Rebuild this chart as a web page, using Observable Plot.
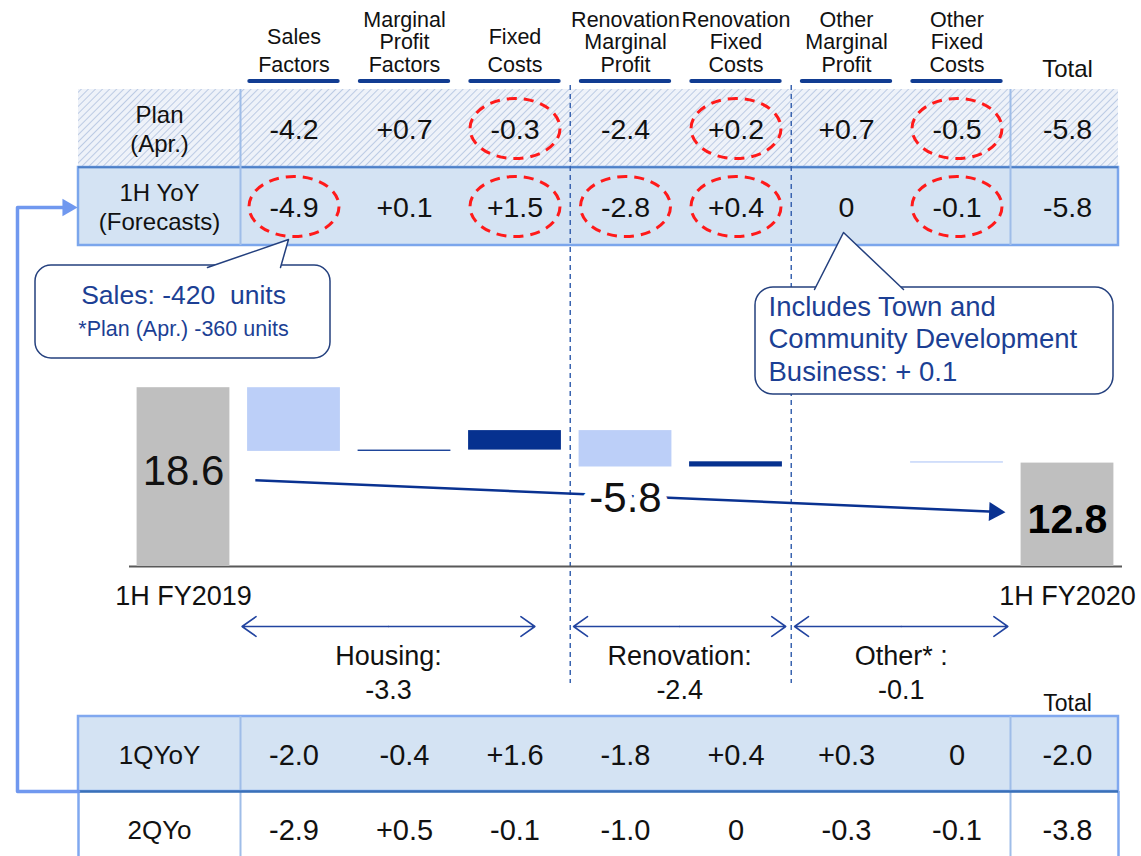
<!DOCTYPE html>
<html><head><meta charset="utf-8">
<script src="https://cdn.jsdelivr.net/npm/d3@7"></script>
<script src="https://cdn.jsdelivr.net/npm/@observablehq/plot@0.6"></script>
<style>
html,body{margin:0;padding:0;background:#fff;}
#wrap{position:relative;width:1141px;height:856px;overflow:hidden;background:#fff;}
#wrap svg{position:absolute;left:0;top:0;}
</style></head><body><div id="wrap"></div>
<script>
// ---------------- data ----------------
const factorNames = ["Sales\nFactors", "Marginal\nProfit\nFactors", "Fixed\nCosts",
  "Renovation\nMarginal\nProfit", "Renovation\nFixed\nCosts", "Other\nMarginal\nProfit", "Other\nFixed\nCosts"];
const totalName = "Total";
const planValues = [-4.2, 0.7, -0.3, -2.4, 0.2, 0.7, -0.5];
const planTotal = -5.8;
const yoyValues = [-4.9, 0.1, 1.5, -2.8, 0.4, 0, -0.1];
const yoyTotal = -5.8;
const q1Values = [-2.0, -0.4, 1.6, -1.8, 0.4, 0.3, 0];
const q1Total = -2.0;
const q2Values = [-2.9, 0.5, -0.1, -1.0, 0, -0.3, -0.1];
const q2Total = -3.8;
const topRowLabels = ["Plan\n(Apr.)", "1H YoY\n(Forecasts)"];
const bottomRowLabels = ["1QYoY", "2QYo"];
const circledPlan = [2, 4, 6];
const circledYoy = [0, 2, 3, 4, 6];
const startLabel = "1H FY2019", endLabel = "1H FY2020";
const startValue = 18.6, endValue = 12.8;
const groupNames = ["Housing:", "Renovation:", "Other* :"];
const groupMembers = [[0, 1, 2], [3, 4], [5, 6]];
const salesNote = ["Sales: -420  units", "*Plan (Apr.) -360 units"];
const otherNote = "Includes Town and\nCommunity Development\nBusiness: + 0.1";

// ---------------- layout ----------------
const W = 1141, H = 856;
const FONT = "Arial, 'Liberation Sans', sans-serif";
const colPx = 110.5, col0Px = 183;
const X0 = -col0Px / colPx, X1 = (W - col0Px) / colPx;
const col = px => (px - col0Px) / colPx;       // page pixel -> column units
const py = px => (629 - px) / 13;             // page pixel -> value units
const xOpt = {type: "linear", domain: [X0, X1], range: [0, W], axis: null};
const tableL = col(78), tableR = col(1118), labelDiv = col(240), totalDiv = col(1010), labelX = col(159);
const fmt = v => Math.abs(v) < 1e-9 ? "0" : (v > 0 ? "+" : "") + v.toFixed(1);

const NAVY = "#0a3291", TXTBLUE = "#1c3f94", DEC = "#bccff8", INC = "#06318f";
const FILLROW = "#d4e3f3", BORDER = "#7ba6ec";

const ellipse = (rx, ry) => ({draw(ctx) {
  const k = 0.5523;
  ctx.moveTo(rx, 0);
  ctx.bezierCurveTo(rx, ry * k, rx * k, ry, 0, ry);
  ctx.bezierCurveTo(-rx * k, ry, -rx, ry * k, -rx, 0);
  ctx.bezierCurveTo(-rx, -ry * k, -rx * k, -ry, 0, -ry);
  ctx.bezierCurveTo(rx * k, -ry, rx, -ry * k, rx, 0);
  ctx.closePath();
}});

const wrap = document.getElementById("wrap");

// ---------------- top table ----------------
const headers = factorNames.map((t, i) => ({x: i + 1, t, n: t.split("\n").length}));
const topCells = [
  ...planValues.map((v, i) => ({row: "plan", x: i + 1, t: fmt(v)})), {row: "plan", x: 8, t: fmt(planTotal)},
  ...yoyValues.map((v, i) => ({row: "yoy", x: i + 1, t: fmt(v)})), {row: "yoy", x: 8, t: fmt(yoyTotal)}
];
const topLabels = [{row: "plan", t: topRowLabels[0]}, {row: "yoy", t: topRowLabels[1]}];
const circles = [...circledPlan.map(i => ({row: "plan", x: i + 1})), ...circledYoy.map(i => ({row: "yoy", x: i + 1}))];
const topDividers = ["plan", "yoy"].flatMap(row => [{row, x: labelDiv}, {row, x: totalDiv}]);

const topSvg = Plot.plot({
  width: W, height: H, margin: 0,
  style: {background: "transparent", fontFamily: FONT},
  x: xOpt,
  y: {type: "band", domain: ["head", "plan", "yoy"], range: [10, 246], padding: 0, axis: null},
  marks: [
    Plot.barX([{row: "plan"}], {x1: tableL, x2: tableR, y: "row", fill: "url(#hatch)"}),
    Plot.barX([{row: "yoy"}], {x1: tableL, x2: tableR, y: "row", fill: FILLROW, stroke: BORDER, strokeWidth: 2.5}),
    Plot.ruleY([{row: "yoy"}], {y: "row", x1: tableL, x2: tableR, dy: -39.3, stroke: "#4d7fc6", strokeWidth: 2}),
    Plot.tickX(topDividers, {x: "x", y: "row", stroke: "#9fbde8", strokeWidth: 2}),
    Plot.text(headers.filter(d => d.n === 2), {x: "x", y: () => "head", text: "t", lineAnchor: "bottom", dy: 21.5, fontSize: 21.5, lineHeight: 1.3, fill: "#111"}),
    Plot.text(headers.filter(d => d.n === 3), {x: "x", y: () => "head", text: "t", lineAnchor: "bottom", dy: 21.5, fontSize: 21.5, lineHeight: 1.05, fill: "#111"}),
    Plot.text([{x: 8, t: totalName}], {x: "x", y: () => "head", text: "t", lineAnchor: "bottom", dy: 26, fontSize: 24, fill: "#111"}),
    Plot.ruleY(headers, {y: () => "head", x1: d => d.x - 0.4, x2: d => d.x + 0.4, dy: 30.5, stroke: "#113c92", strokeWidth: 4, strokeLinecap: "round"}),
    Plot.text(topLabels, {x: labelX, y: "row", text: "t", fontSize: 24, lineHeight: 1.2, fill: "#111"}),
    Plot.text(topCells, {x: "x", y: "row", text: "t", fontSize: 28.5, dy: 1, fill: "#111"}),
    Plot.dot(circles, {x: "x", y: "row", symbol: ellipse(45, 30), r: 5, fill: "none", stroke: "#ff1a1a", strokeWidth: 3, strokeDasharray: "10,7"})
  ]
});
{
  const defs = d3.select(topSvg).insert("defs", ":first-child");
  const p = defs.append("pattern").attr("id", "hatch").attr("patternUnits", "userSpaceOnUse")
    .attr("width", 5).attr("height", 5).attr("patternTransform", "rotate(45)");
  p.append("rect").attr("width", 5).attr("height", 5).attr("fill", "#eef2f9");
  p.append("line").attr("x1", 0).attr("y1", 0).attr("x2", 0).attr("y2", 5).attr("stroke", "#bccbe4").attr("stroke-width", 2);
}
wrap.appendChild(topSvg);

// ---------------- bottom table ----------------
const botCells = [
  ...q1Values.map((v, i) => ({row: "q1", x: i + 1, t: fmt(v)})), {row: "q1", x: 8, t: fmt(q1Total)},
  ...q2Values.map((v, i) => ({row: "q2", x: i + 1, t: fmt(v)})), {row: "q2", x: 8, t: fmt(q2Total)}
];
const botLabels = [{row: "q1", t: bottomRowLabels[0]}, {row: "q2", t: bottomRowLabels[1]}];
const botDividers = ["q1", "q2"].flatMap(row => [{row, x: labelDiv}, {row, x: totalDiv}]);

const botSvg = Plot.plot({
  width: W, height: H, margin: 0,
  style: {background: "transparent", fontFamily: FONT},
  x: xOpt,
  y: {type: "band", domain: ["q1", "q2"], range: [716, 866], padding: 0, axis: null},
  marks: [
    Plot.barX([{row: "q1"}], {x1: tableL, x2: tableR, y: "row", fill: FILLROW, stroke: "#80a8ef", strokeWidth: 2.5}),
    Plot.tickX([tableL, tableR], {x: d => d, y: () => "q2", stroke: "#80a8ef", strokeWidth: 2.5}),
    Plot.tickX(botDividers, {x: "x", y: "row", stroke: "#9fbde8", strokeWidth: 2}),
    Plot.ruleY([{row: "q2"}], {y: "row", x1: tableL, x2: tableR, dy: -37.5, stroke: "#3a70b8", strokeWidth: 2.5}),
    Plot.text([{x: 8, t: totalName}], {x: "x", y: () => "q1", text: "t", dy: -50, fontSize: 23, fill: "#111"}),
    Plot.text(botLabels, {x: labelX, y: "row", text: "t", fontSize: 26, dy: 2, fill: "#111"}),
    Plot.text(botCells, {x: "x", y: "row", text: "t", fontSize: 29, dy: 2, fill: "#111"})
  ]
});
wrap.appendChild(botSvg);

// ---------------- waterfall + annotations ----------------
const axisBase = py(566);
let cum = startValue;
const steps = yoyValues.map((v, i) => {
  const a = cum; cum = Math.round((cum + v) * 100) / 100;
  return {x: i + 1, y1: a, y2: cum, v};
}).filter(d => d.v !== 0);
const ends = [{x: 0, v: startValue, label: startLabel}, {x: 8, v: endValue, label: endLabel}];
const midS = (startValue + axisBase) / 2, midE = (endValue + axisBase) / 2;
const yAt = x => midS + (midE - midS) * x / 8;
const arrowFrom = 0.65, arrowTo = 7.34;
const angleDeg = Math.atan2((midS - midE) * 13, 8 * colPx) * 180 / Math.PI;

const bracketTrim = [0.32, 0.05, 0.04];
const groups = groupNames.map((name, g) => {
  const m = groupMembers[g];
  const x1 = m[0] + 0.5 + 0.03, x2 = m[m.length - 1] + 1.5 - bracketTrim[g];
  return {name, value: d3.sum(m, i => yoyValues[i]), x1, x2, cx: (x1 + x2) / 2};
});
const yBr = py(626);

const wfSvg = Plot.plot({
  width: W, height: H, margin: 0,
  style: {background: "transparent", fontFamily: FONT},
  x: xOpt,
  y: {type: "linear", domain: [0, 20], range: [629, 369], axis: null},
  color: {type: "identity"},
  marks: [
    // dashed segment separators
    Plot.ruleX([3.5, 5.5], {x: d => d, y1: py(85), y2: py(683), stroke: "#3a64b0", strokeWidth: 1.5, strokeDasharray: "5,4"}),
    // connector from quarterly table to 1H YoY row
    Plot.line([[col(78), py(791)], [col(17), py(791)], [col(17), py(207)], [col(64), py(207)]],
      {x: d => d[0], y: d => d[1], stroke: "#7098ef", strokeWidth: 3.5}),
    Plot.dot([[col(67), py(207)]], {x: d => d[0], y: d => d[1], symbol: "triangle", r: 6.5, rotate: 90, fill: "#7098ef"}),
    // waterfall
    Plot.ruleY([axisBase], {y: d => d, x1: col(129), x2: col(1122), stroke: "#595959", strokeWidth: 2}),
    Plot.rect(ends, {x1: d => d.x - 0.42, x2: d => d.x + 0.42, y1: axisBase, y2: "v", fill: "#bfbfbf"}),
    Plot.rect(steps, {x1: d => d.x - 0.42, x2: d => d.x + 0.42, y1: "y1", y2: "y2", fill: d => d.v < 0 ? DEC : INC}),
    Plot.text(ends.slice(0, 1), {x: "x", y: d => (d.v + axisBase) / 2, text: d => d.v.toFixed(1), fontSize: 42, dy: -6, fill: "#111"}),
    Plot.text(ends.slice(1), {x: "x", y: d => (d.v + axisBase) / 2, text: d => d.v.toFixed(1), fontSize: 41, fontWeight: "bold", dy: 5, fill: "#000"}),
    Plot.text(ends, {x: "x", y: axisBase, text: "label", dy: 30, fontSize: 27, fill: "#111"}),
    // total change arrow
    Plot.link([{}], {x1: arrowFrom, y1: yAt(arrowFrom), x2: arrowTo, y2: yAt(arrowTo), stroke: NAVY, strokeWidth: 2.5}),
    Plot.dot([{}], {x: arrowTo, y: yAt(arrowTo), symbol: "triangle", r: 7, rotate: 90 + angleDeg, fill: NAVY}),
    Plot.text([{}], {x: 4, y: yAt(4), text: () => fmt(yoyTotal), fontSize: 42, dy: 3, fill: "#111", stroke: "white", strokeWidth: 16, paintOrder: "stroke"}),
    // segment brackets
    Plot.arrow(groups.flatMap(d => [{a: d.cx, b: d.x1}, {a: d.cx, b: d.x2}]),
      {x1: "a", x2: "b", y1: yBr, y2: yBr, headLength: 16, headAngle: 70, stroke: "#2244a0", strokeWidth: 1.6}),
    Plot.text(groups, {x: "cx", y: yBr, text: d => d.name + "\n" + fmt(d.value), lineAnchor: "top", dy: 14, fontSize: 27, lineHeight: 1.26, fill: "#111"}),
    // callout: sales units
    Plot.rect([{}], {x1: col(35), x2: col(330), y1: py(265), y2: py(358), rx: 16, fill: "white", stroke: "#24407e", strokeWidth: 1.5}),
    Plot.line([[col(207), py(267)], [col(288), py(239)], [col(280), py(267)]],
      {x: d => d[0], y: d => d[1], fill: "white", stroke: "#24407e", strokeWidth: 1.5}),
    Plot.text([salesNote[0]], {x: col(183), y: py(295), text: d => d, fontSize: 26.5, fill: TXTBLUE}),
    Plot.text([salesNote[1]], {x: col(183), y: py(329), text: d => d, fontSize: 21.5, fill: TXTBLUE}),
    // callout: other segment
    Plot.rect([{}], {x1: col(755), x2: col(1113), y1: py(287), y2: py(394), rx: 18, fill: "white", stroke: "#24407e", strokeWidth: 1.5}),
    Plot.line([[col(814), py(289)], [col(843), py(232)], [col(903), py(289)]],
      {x: d => d[0], y: d => d[1], fill: "white", stroke: "#24407e", strokeWidth: 1.5}),
    Plot.text([otherNote], {x: col(768), y: py(292), text: d => d, textAnchor: "start", lineAnchor: "top", fontSize: 27.5, lineHeight: 1.19, fill: TXTBLUE})
  ]
});
wrap.appendChild(wfSvg);
</script>
</body></html>
